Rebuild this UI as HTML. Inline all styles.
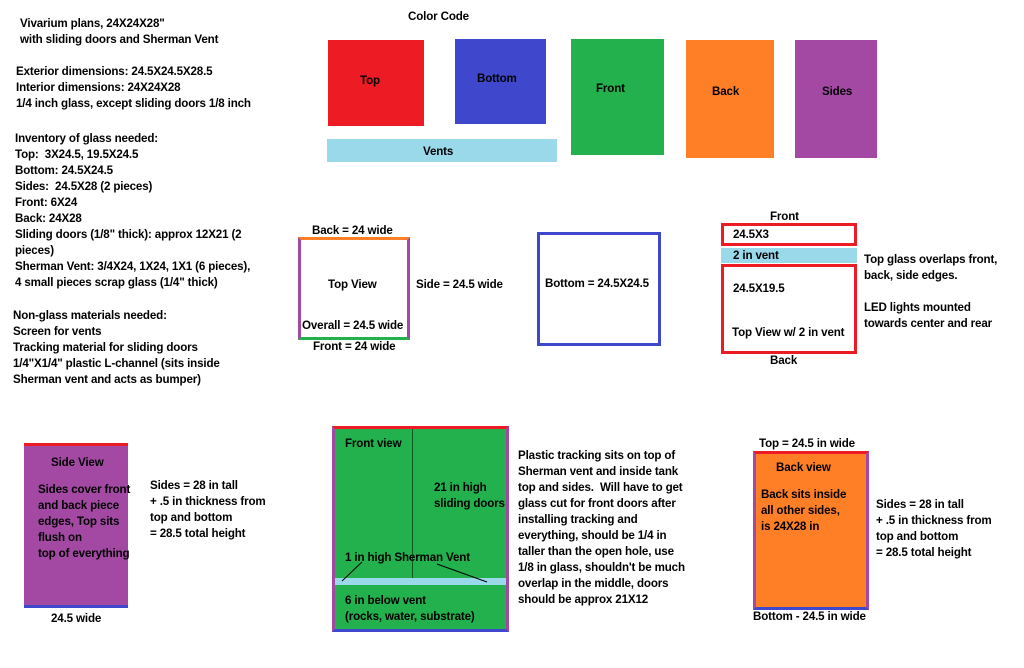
<!DOCTYPE html>
<html><head><meta charset="utf-8"><style>
body{margin:0;width:1024px;height:668px;background:#fff;position:relative;overflow:hidden;font-family:"Liberation Sans",sans-serif;font-weight:bold;font-size:11.6px;color:#000;letter-spacing:-0.15px}
.a{position:absolute;white-space:pre;line-height:16px}
.b{position:absolute;box-sizing:border-box}
</style></head><body>
<div class="a" style="left:20px;top:16px">Vivarium plans, 24X24X28"
with sliding doors and Sherman Vent</div>
<div class="a" style="left:16px;top:64px">Exterior dimensions: 24.5X24.5X28.5
Interior dimensions: 24X24X28
1/4 inch glass, except sliding doors 1/8 inch</div>
<div class="a" style="left:15px;top:131px">Inventory of glass needed:
Top:  3X24.5, 19.5X24.5
Bottom: 24.5X24.5
Sides:  24.5X28 (2 pieces)
Front: 6X24
Back: 24X28
Sliding doors (1/8" thick): approx 12X21 (2
pieces)
Sherman Vent: 3/4X24, 1X24, 1X1 (6 pieces),
4 small pieces scrap glass (1/4" thick)</div>
<div class="a" style="left:13px;top:308px">Non-glass materials needed:
Screen for vents
Tracking material for sliding doors
1/4"X1/4" plastic L-channel (sits inside
Sherman vent and acts as bumper)</div>

<div class="a" style="left:408px;top:9px">Color Code</div>
<div class="b" style="left:328px;top:40px;width:96px;height:86px;background:#ed1c24"></div>
<div class="a" style="left:360px;top:73px">Top</div>
<div class="b" style="left:455px;top:39px;width:91px;height:85px;background:#3f48cc"></div>
<div class="a" style="left:477px;top:71px">Bottom</div>
<div class="b" style="left:571px;top:39px;width:93px;height:116px;background:#22b14c"></div>
<div class="a" style="left:596px;top:81px">Front</div>
<div class="b" style="left:686px;top:40px;width:88px;height:118px;background:#ff7f27"></div>
<div class="a" style="left:712px;top:84px">Back</div>
<div class="b" style="left:795px;top:40px;width:82px;height:118px;background:#a349a4"></div>
<div class="a" style="left:822px;top:84px">Sides</div>
<div class="b" style="left:327px;top:139px;width:230px;height:23px;background:#99d9ea"></div>
<div class="a" style="left:423px;top:144px">Vents</div>

<div class="a" style="left:312px;top:223px">Back = 24 wide</div>
<div class="b" style="left:298px;top:237px;width:112px;height:103px;border-left:3px solid #a349a4;border-right:3px solid #a349a4;border-top:3px solid #ff7f27;border-bottom:3px solid #22b14c"></div>
<div class="a" style="left:328px;top:277px">Top View</div>
<div class="a" style="left:302px;top:318px">Overall = 24.5 wide</div>
<div class="a" style="left:313px;top:339px">Front = 24 wide</div>
<div class="a" style="left:416px;top:277px">Side = 24.5 wide</div>
<div class="b" style="left:537px;top:232px;width:124px;height:114px;border:3px solid #3f48cc"></div>
<div class="a" style="left:545px;top:276px">Bottom = 24.5X24.5</div>

<div class="a" style="left:770px;top:209px">Front</div>
<div class="b" style="left:721px;top:223px;width:136px;height:23px;border:3px solid #ed1c24"></div>
<div class="a" style="left:733px;top:227px">24.5X3</div>
<div class="b" style="left:721px;top:248px;width:136px;height:15px;background:#99d9ea"></div>
<div class="a" style="left:733px;top:248px">2 in vent</div>
<div class="b" style="left:721px;top:264px;width:136px;height:90px;border:3px solid #ed1c24"></div>
<div class="a" style="left:733px;top:281px">24.5X19.5</div>
<div class="a" style="left:732px;top:325px">Top View w/ 2 in vent</div>
<div class="a" style="left:770px;top:353px">Back</div>
<div class="a" style="left:864px;top:252px">Top glass overlaps front,
back, side edges.

LED lights mounted
towards center and rear</div>

<div class="b" style="left:24px;top:443px;width:104px;height:165px;background:#a349a4;border-top:3px solid #ed1c24;border-bottom:3px solid #3f48cc"></div>
<div class="a" style="left:51px;top:455px">Side View</div>
<div class="a" style="left:38px;top:482px">Sides cover front
and back piece
edges, Top sits
flush on
top of everything</div>
<div class="a" style="left:150px;top:478px">Sides = 28 in tall
+ .5 in thickness from
top and bottom
= 28.5 total height</div>
<div class="a" style="left:51px;top:611px">24.5 wide</div>

<div class="b" style="left:332px;top:426px;width:177px;height:206px;background:#22b14c;border-left:3px solid #a349a4;border-right:3px solid #a349a4;border-top:3px solid #ed1c24;border-bottom:3px solid #3f48cc"></div>
<div class="b" style="left:412px;top:429px;width:1px;height:150px;background:#0a5a20"></div>
<div class="b" style="left:335px;top:578px;width:171px;height:7px;background:#99d9ea"></div>
<svg class="b" style="left:320px;top:420px" width="200" height="220"><line x1="42" y1="142" x2="22" y2="161" stroke="#000" stroke-width="1"/><line x1="117" y1="144" x2="167" y2="162" stroke="#000" stroke-width="1"/></svg>
<div class="a" style="left:345px;top:436px">Front view</div>
<div class="a" style="left:434px;top:480px">21 in high
sliding doors</div>
<div class="a" style="left:345px;top:550px">1 in high Sherman Vent</div>
<div class="a" style="left:345px;top:593px">6 in below vent
(rocks, water, substrate)</div>
<div class="a" style="left:518px;top:448px">Plastic tracking sits on top of
Sherman vent and inside tank
top and sides.  Will have to get
glass cut for front doors after
installing tracking and
everything, should be 1/4 in
taller than the open hole, use
1/8 in glass, shouldn't be much
overlap in the middle, doors
should be approx 21X12</div>

<div class="a" style="left:759px;top:436px">Top = 24.5 in wide</div>
<div class="b" style="left:753px;top:451px;width:116px;height:159px;background:#ff7f27;border-left:3px solid #a349a4;border-right:3px solid #a349a4;border-top:3px solid #ed1c24;border-bottom:3px solid #3f48cc"></div>
<div class="a" style="left:776px;top:460px">Back view</div>
<div class="a" style="left:761px;top:487px">Back sits inside
all other sides,
is 24X28 in</div>
<div class="a" style="left:876px;top:497px">Sides = 28 in tall
+ .5 in thickness from
top and bottom
= 28.5 total height</div>
<div class="a" style="left:753px;top:609px">Bottom - 24.5 in wide</div>
</body></html>
